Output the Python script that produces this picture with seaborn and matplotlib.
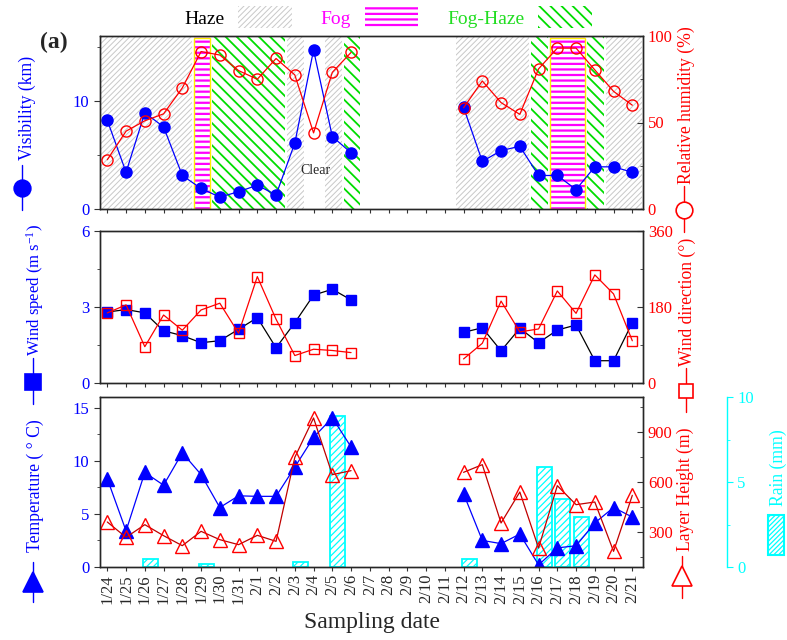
#%% IMPORTS
import numpy as np
import pandas as pd
import seaborn as sns
import matplotlib
matplotlib.use("Agg")
from matplotlib import pyplot as plt
from matplotlib.patches import Patch, Rectangle
from matplotlib.lines import Line2D
from matplotlib.ticker import MultipleLocator

#%% DATA
nan = np.nan
dates = ['1/24', '1/25', '1/26', '1/27', '1/28', '1/29', '1/30', '1/31',
         '2/1', '2/2', '2/3', '2/4', '2/5', '2/6', '2/7', '2/8', '2/9', '2/10',
         '2/11', '2/12', '2/13', '2/14', '2/15', '2/16', '2/17', '2/18',
         '2/19', '2/20', '2/21']

visibility = [8.2, 3.4, 8.9, 7.6, 3.1, 1.9, 1.1, 1.6, 2.2, 1.3, 6.1, 14.7, 6.7, 5.2,
              nan, nan, nan, nan, nan,
              9.4, 4.4, 5.4, 5.8, 3.1, 3.1, 1.8, 3.9, 3.9, 3.4]
humidity = [28.5, 45, 51, 55, 70, 91, 89, 80, 75, 87, 77.5, 44, 79, 90.5,
            nan, nan, nan, nan, nan,
            58.5, 74, 61.5, 54.7, 81, 93, 93, 80.4, 68, 60]
wind_speed = [2.8, 2.9, 2.77, 2.06, 1.87, 1.59, 1.67, 2.12, 2.58, 1.39, 2.38, 3.47, 3.7, 3.28,
              nan, nan, nan, nan, nan,
              2.0, 2.18, 1.27, 2.16, 1.59, 2.09, 2.29, 0.88, 0.88, 2.38]
wind_dir = [166, 185, 86, 161, 125, 173, 189, 118, 252, 151, 65, 80, 77, 72,
            nan, nan, nan, nan, nan,
            57, 94, 194, 121, 128, 218, 165, 256, 211, 100]
temperature = [8.3, 3.4, 8.9, 7.7, 10.75, 8.7, 5.6, 6.7, 6.65, 6.65, 9.4, 12.2, 14.05, 11.3,
               nan, nan, nan, nan, nan,
               6.9, 2.5, 2.2, 3.1, 0.2, 1.8, 2.0, 4.15, 5.6, 4.7]
layer_height = [362, 270, 346, 280, 220, 306, 256, 226, 282, 246, 750, 986, 646, 670,
                nan, nan, nan, nan, nan,
                660, 706, 356, 542, 206, 580, 466, 482, 186, 522]

rain_dates = ['1/26', '1/29', '2/3', '2/5', '2/12', '2/16', '2/17', '2/18']
rain_mm = [0.5, 0.2, 0.3, 8.9, 0.45, 5.9, 4.0, 2.95]

# weather type, first day, last day
periods = [('Haze', '1/24', '1/28'), ('Fog', '1/29', '1/29'),
           ('Fog-Haze', '1/30', '2/2'), ('Haze', '2/3', '2/3'),
           ('Haze', '2/5', '2/5'), ('Fog-Haze', '2/6', '2/6'),
           ('Haze', '2/12', '2/15'), ('Fog-Haze', '2/16', '2/16'),
           ('Fog', '2/17', '2/18'), ('Fog-Haze', '2/19', '2/19'),
           ('Haze', '2/20', '2/21')]

#%% CONFIGURATION
BLUE, RED, CYAN = '#0000ff', '#ff0000', '#00ffff'
kind_color = {'Haze': '#c8c8c8', 'Fog': '#ff00ff', 'Fog-Haze': '#00dd00'}
kind_hatch = {'Haze': '//////', 'Fog': '---', 'Fog-Haze': '\\\\\\'}
kind_lw = {'Haze': 0.7, 'Fog': 1.6, 'Fog-Haze': 1.3}
kind_text = {'Haze': 'black', 'Fog': '#ff00ff', 'Fog-Haze': '#22dd22'}

sns.set_style("ticks")
plt.rcParams['font.family'] = ['Liberation Serif', 'DejaVu Serif']
plt.rcParams['mathtext.fontset'] = 'custom'
plt.rcParams['mathtext.rm'] = 'Liberation Serif'
plt.rcParams['mathtext.it'] = 'Liberation Serif:italic'
plt.rcParams['hatch.linewidth'] = 1.0
plt.rcParams['axes.linewidth'] = 1.0

W, H = 787, 640
LABEL_SIZE = 12.7

day = np.arange(len(dates))
df = pd.DataFrame({'day': day, 'vis': visibility, 'rh': humidity,
                   'ws': wind_speed, 'wd': wind_dir, 'temp': temperature,
                   'layer': layer_height})
df['segment'] = np.where(day <= dates.index('2/6'), 0, 1)


def rect(l, t, r, b):
    return [l / W, 1 - b / H, (r - l) / W, (b - t) / H]


def set_hatch_lw(patch, lw):
    if hasattr(patch, 'set_hatch_linewidth'):
        patch.set_hatch_linewidth(lw)


def draw(ax, col, color, marker, ms, face, line_color=None):
    sns.lineplot(data=df, x='day', y=col, units='segment', estimator=None,
                 ax=ax, color=line_color or color, lw=0.9, marker=marker,
                 markersize=ms, markerfacecolor=face, markeredgecolor=color,
                 markeredgewidth=1.0)
    ax.set_xlabel('')
    ax.set_ylabel('')


def style_y(ax, lim, major, minor, color, side):
    ax.set_ylim(*lim)
    ax.yaxis.set_major_locator(MultipleLocator(major))
    ax.yaxis.set_minor_locator(MultipleLocator(minor))
    direction = 'out' if side == 'left' else 'in'
    ax.tick_params(axis='y', which='both', direction=direction,
                   labelcolor=color, labelsize=12, color='#333333')
    ax.tick_params(axis='y', which='major', length=4)
    ax.tick_params(axis='y', which='minor', length=2.5)


def ylab(x, y, s, color, size=LABEL_SIZE):
    fig.text(x / W, 1 - y / H, s, rotation=90, color=color, ha='center',
             va='center', fontsize=size)


def glyph(x, y0, y1, ym, marker, ms, color, face):
    fig.add_artist(Line2D([x / W] * 2, [1 - y0 / H, 1 - y1 / H],
                          transform=fig.transFigure, color=color, lw=1))
    fig.add_artist(Line2D([x / W], [1 - ym / H], transform=fig.transFigure,
                          marker=marker, ms=ms, mfc=face, mec=color, mew=1.2,
                          ls='none'))


#%% MAIN CODE
fig = plt.figure(figsize=(W / 100, H / 100), dpi=100)
ax1 = fig.add_axes(rect(100, 36, 643, 209))
ax2 = fig.add_axes(rect(100, 231, 643, 383))
ax3 = fig.add_axes(rect(100, 397, 643, 567))

# weather shading
for kind, d0, d1 in periods:
    x0 = dates.index(d0) - 0.4
    x1 = dates.index(d1) + 0.5
    span = ax1.axvspan(x0, x1, facecolor='none', edgecolor=kind_color[kind],
                       hatch=kind_hatch[kind], lw=0, zorder=0.5)
    set_hatch_lw(span, kind_lw[kind])
    if kind == 'Fog':
        ax1.axvspan(x0, x1, ymin=0.0, ymax=0.99, facecolor='none',
                    edgecolor='#ffee00', lw=1.0, zorder=0.6)
ax1.text(11.1, 3.6, 'Clear', fontsize=10, ha='center', va='center')

# panel 1
draw(ax1, 'vis', BLUE, 'o', 8, BLUE)
ax1r = ax1.twinx()
draw(ax1r, 'rh', RED, 'o', 8, 'none')
style_y(ax1, (0, 16), 10, 5, BLUE, 'left')
style_y(ax1r, (0, 100), 50, 25, RED, 'right')

# panel 2
draw(ax2, 'ws', BLUE, 's', 7, BLUE, line_color='black')
ax2r = ax2.twinx()
draw(ax2r, 'wd', RED, 's', 7, 'none')
style_y(ax2, (0, 6), 3, 1.5, BLUE, 'left')
style_y(ax2r, (0, 360), 180, 90, RED, 'right')

# panel 3 : rain drawn underneath
rain_ax = ax3.twinx()
rain_ax.set_zorder(ax3.get_zorder() - 1)
ax3.patch.set_visible(False)
rain_x = [dates.index(d) + 0.3 for d in rain_dates]
bars = rain_ax.bar(rain_x, rain_mm, width=0.8, facecolor='none', edgecolor=CYAN,
                   hatch='/////', lw=1.3)
for b in bars:
    set_hatch_lw(b, 0.9)
rain_ax.set_ylim(0, 10)
rain_ax.yaxis.set_major_locator(MultipleLocator(5))
rain_ax.yaxis.set_minor_locator(MultipleLocator(2.5))
rain_ax.spines['right'].set_position(('axes', (727 - 100) / 543))
rain_ax.spines['right'].set_color(CYAN)
for s in ['left', 'top', 'bottom']:
    rain_ax.spines[s].set_visible(False)
rain_ax.tick_params(axis='y', which='both', direction='out', colors=CYAN,
                    labelsize=12)
rain_ax.tick_params(axis='y', which='major', length=4)
rain_ax.tick_params(axis='y', which='minor', length=2.5)

draw(ax3, 'temp', BLUE, '^', 10, BLUE)
ax3r = ax3.twinx()
draw(ax3r, 'layer', RED, '^', 10, 'none', line_color='#c00000')
style_y(ax3, (0, 16), 5, 2.5, BLUE, 'left')
style_y(ax3r, (92, 1112), 300, 150, RED, 'right')

for ax in [ax1, ax2, ax3]:
    ax.set_xlim(-0.39, 28.57)
    ax.set_xticks(day)
    ax.tick_params(axis='x', direction='out', length=3, color='#333333')
    for s in ax.spines.values():
        s.set_color('#333333')
ax1.set_xticklabels([])
ax2.set_xticklabels([])
ax3.set_xticklabels(dates, rotation=90, fontsize=12)
ax3.tick_params(axis='x', pad=2)
ax3.set_xlabel('Sampling date', fontsize=17, labelpad=6)

# axis titles with symbol keys
ylab(27, 108, 'Visibility (km)', BLUE)
glyph(22, 165, 210, 188, 'o', 12, BLUE, BLUE)
ylab(35, 290, 'Wind speed (m s$^{-1}$)', BLUE, size=12)
glyph(33, 358, 404, 382, 's', 11, BLUE, BLUE)
ylab(35, 486, 'Temperature ( ° C)', BLUE)
glyph(33, 562, 602, 582, '^', 14, BLUE, BLUE)

ylab(686, 105, 'Relative humidity (%)', RED)
glyph(684, 186, 232, 210, 'o', 12, RED, 'white')
ylab(687, 302, 'Wind direction (°)', RED)
glyph(686, 368, 412, 391, 's', 10.5, RED, 'white')
ylab(685, 489, 'Layer Height (m)', RED)
glyph(682, 556, 598, 576, '^', 14, RED, 'white')

ylab(778, 468, 'Rain (mm)', CYAN)
rain_key = Rectangle((768 / W, 1 - 555 / H), 16 / W, 40 / H,
                     transform=fig.transFigure, facecolor='none',
                     edgecolor=CYAN, hatch='///////', lw=1.5)
set_hatch_lw(rain_key, 0.9)
fig.add_artist(rain_key)

# legend of weather types
handles = []
for k in ['Haze', 'Fog', 'Fog-Haze']:
    p = Patch(facecolor='none', edgecolor=kind_color[k], hatch=kind_hatch[k],
              lw=0, label=k)
    set_hatch_lw(p, kind_lw[k])
    handles.append(p)
leg = fig.legend(handles=handles, loc='center', bbox_to_anchor=(388 / W, 1 - 17 / H),
                 ncol=3, frameon=False, markerfirst=False, fontsize=14,
                 handlelength=2.75, handleheight=1.3, handletextpad=0.7,
                 columnspacing=1.5)
for t in leg.get_texts():
    t.set_color(kind_text[t.get_text()])
for p in leg.get_patches():
    set_hatch_lw(p, kind_lw[p.get_label()] if p.get_label() in kind_lw else 1.0)

fig.text(54 / W, 1 - 42 / H, '(a)', fontsize=17, fontweight='bold',
         ha='center', va='center')

fig.savefig('out.png', dpi=100)
